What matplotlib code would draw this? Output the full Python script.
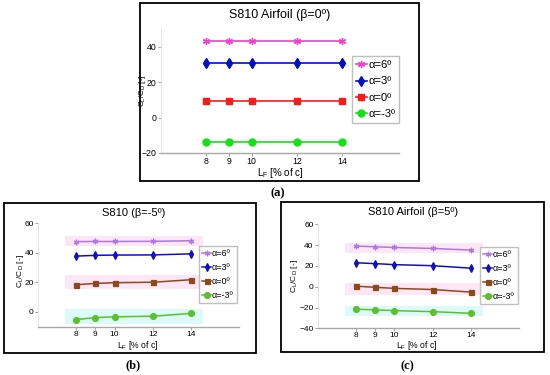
import matplotlib
matplotlib.use("Agg")
import matplotlib.pyplot as plt
from matplotlib.patches import Rectangle

plt.rcParams['font.family'] = ['Liberation Sans', 'DejaVu Sans']
plt.rcParams['mathtext.fontset'] = 'custom'
plt.rcParams['mathtext.rm'] = 'Liberation Sans'

# ---------------- data ----------------
lf = [8, 9, 10, 12, 14]
xticks = [8, 9, 10, 12, 14]
labels = ["α=6º", "α=3º", "α=0º", "α=-3º"]

a_6 = [43.3, 43.3, 43.3, 43.3, 43.3]
a_3 = [30.8, 30.8, 30.8, 30.8, 30.8]
a_0 = [9.4, 9.4, 9.4, 9.4, 9.4]
a_m3 = [-14.0, -14.0, -14.0, -14.0, -14.0]

b_6 = [47.6, 47.7, 47.7, 47.8, 48.2]
b_3 = [37.8, 38.3, 38.5, 38.6, 39.3]
b_0 = [18.4, 19.3, 19.8, 20.1, 21.8]
b_m3 = [-5.2, -3.8, -3.3, -2.9, -1.0]

c_6 = [39.0, 38.4, 37.7, 36.8, 35.2]
c_3 = [23.0, 22.2, 21.2, 20.2, 17.8]
c_0 = [0.5, -0.6, -1.6, -2.7, -5.2]
c_m3 = [-21.6, -22.3, -23.0, -24.0, -25.6]

a_yticks = [-20, 0, 20, 40]
b_yticks = [0, 20, 40, 60]
c_yticks = [-40, -20, 0, 20, 40, 60]

# ---------------- figure ----------------
W, H = 550, 375
fig = plt.figure(figsize=(5.5, 3.75), dpi=100)
fig.patch.set_facecolor('white')


def fx(px):
    return px / W


def fy(py):
    return 1 - py / H


def box(x1, y1, x2, y2):
    fig.add_artist(Rectangle((fx(x1), fy(y2)), (x2 - x1) / W, (y2 - y1) / H,
                             transform=fig.transFigure, fill=False,
                             lw=1.3, ec='black', zorder=10))


def make_axes(l, r, t, b):
    return fig.add_axes([fx(l), fy(b), (r - l) / W, (b - t) / H])


def style(ax, ylim, yticks, fs):
    ax.set_xlim(6, 16.5)
    ax.set_ylim(*ylim)
    ax.set_xticks(xticks)
    ax.set_yticks(yticks)
    ax.tick_params(labelsize=fs, length=2, width=0.6, color='#909090', pad=1.0)
    for s in ['top', 'right']:
        ax.spines[s].set_visible(False)
    ax.spines['bottom'].set_color('#a8a8a8')
    ax.spines['bottom'].set_linewidth(1.0)
    ax.spines['left'].set_color('#e4e4e4')
    ax.spines['left'].set_linewidth(0.8)
    ax.set_facecolor('white')


def band(ax, ys, color):
    lo, hi = min(ys), max(ys)
    ax.fill_between([lf[0] - 0.6, lf[-1] + 0.6], lo - 3, hi + 3,
                    color=color, lw=0, zorder=0)


def legend(ax, anchor, fs):
    ax.legend(loc='upper right', bbox_to_anchor=anchor, fontsize=fs,
              handlelength=1.0, handletextpad=0.1, borderpad=0.35,
              labelspacing=0.55, frameon=True, fancybox=False,
              edgecolor='#b0b0b0', borderaxespad=0)


marks = [(6, 2, 0), 'd', 's', 'o']

# ---------------- panel (a) ----------------
box(140, 3, 419, 181)
axa = make_axes(161, 399, 29.2, 153)
cols_a = ['#f040c8', '#0010c0', '#ff1818', '#18e018']
msz_a = [5, 5, 4.2, 5]
for ys, c, m, ms, lab in zip([a_6, a_3, a_0, a_m3], cols_a, marks, msz_a, labels):
    axa.plot(lf, ys, color=c, marker=m, ms=ms, lw=1.2, mew=1.0, label=lab)
style(axa, (-20, 50), a_yticks, 6.3)
legend(axa, (1.0, 0.78), 8)
fig.text(fx(280), fy(15), "S810 Airfoil (β=0º)", ha='center', va='center', fontsize=9)
fig.text(fx(280), fy(172.5), r"L$_\mathregular{F}$ [% of c]", ha='center', va='center', fontsize=7)
fig.text(fx(142.5), fy(91), r"C$_\mathregular{L}$/C$_\mathregular{D}$ [-]", ha='center',
         va='center', rotation=90, fontsize=5.8)
fig.text(fx(278), fy(193), "(a)", ha='center', va='center', fontsize=9,
         family='Liberation Serif', fontweight='bold')

cols_bc = ['#b078e0', '#1010c0', '#8c4a1c', '#5cc028']
band_cols = ['#fde6f6', None, '#fde6f6', '#ddfafa']
msz_bc = [4, 4.2, 3.6, 4.2]

# ---------------- panel (b) ----------------
box(4, 203, 256, 353)
axb = make_axes(38, 239, 223.3, 326.7)
for ys, c, m, ms, lab, bc in zip([b_6, b_3, b_0, b_m3], cols_bc, marks, msz_bc, labels, band_cols):
    if bc:
        band(axb, ys, bc)
    axb.plot(lf, ys, color=c, marker=m, ms=ms, lw=1.1, mew=0.9, label=lab)
style(axb, (-10, 60), b_yticks, 6)
legend(axb, (0.99, 0.78), 6.5)
fig.text(fx(134), fy(213), "S810 (β=-5º)", ha='center', va='center', fontsize=8)
fig.text(fx(138), fy(345), r"L$_\mathregular{F}$ [% of c]", ha='center', va='center', fontsize=6.2)
fig.text(fx(20), fy(271), r"C$_\mathregular{L}$/C$_\mathregular{D}$ [-]", ha='center',
         va='center', rotation=90, fontsize=6)
fig.text(fx(133), fy(365), "(b)", ha='center', va='center', fontsize=9,
         family='Liberation Serif', fontweight='bold')

# ---------------- panel (c) ----------------
box(281, 202, 544, 352)
axc = make_axes(317.7, 519, 224.3, 328.3)
for ys, c, m, ms, lab, bc in zip([c_6, c_3, c_0, c_m3], cols_bc, marks, msz_bc, labels, band_cols):
    if bc:
        band(axc, ys, bc)
    axc.plot(lf, ys, color=c, marker=m, ms=ms, lw=1.1, mew=0.9, label=lab)
style(axc, (-40, 60), c_yticks, 6)
legend(axc, (0.995, 0.785), 6.5)
fig.text(fx(413), fy(212), "S810 Airfoil (β=5º)", ha='center', va='center', fontsize=8)
fig.text(fx(417), fy(345.5), r"L$_\mathregular{F}$ [% of c]", ha='center', va='center', fontsize=6.2)
fig.text(fx(295), fy(276), r"C$_\mathregular{L}$/C$_\mathregular{D}$ [-]", ha='center',
         va='center', rotation=90, fontsize=6)
fig.text(fx(407), fy(366), "(c)", ha='center', va='center', fontsize=9,
         family='Liberation Serif', fontweight='bold')

fig.savefig("out.png", dpi=100, facecolor='white')
